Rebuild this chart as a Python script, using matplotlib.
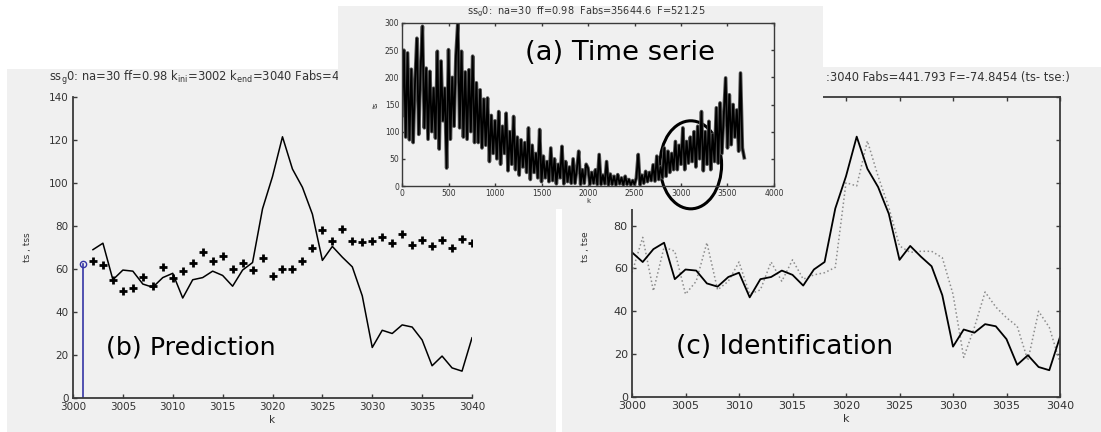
import numpy as np
import matplotlib
matplotlib.use("Agg")
import matplotlib.pyplot as plt
from matplotlib.patches import Rectangle, Ellipse

plt.rcParams['font.family'] = ['DejaVu Sans']
plt.rcParams['mathtext.default'] = 'regular'

# --- (a) full time series, one value every 20 samples ---
k_series = np.arange(0, 3700, 20)
ts_series = [
    130, 250, 90, 245, 85, 215, 80, 190, 272, 95, 215, 294, 107, 217, 86, 211, 100, 180, 88, 248, 68, 230, 120, 180, 33,
    251, 86, 200, 110, 240, 300, 107, 248, 90, 210, 86, 214, 100, 239, 80, 190, 80, 177, 70, 160, 75, 162, 45, 130, 60,
    120, 50, 137, 40, 110, 60, 134, 28, 100, 40, 128, 30, 90, 20, 85, 35, 80, 25, 107, 12, 75, 25, 60, 15, 104,
    8, 55, 15, 45, 8, 70, 10, 50, 4, 40, 15, 73, 4, 45, 8, 35, 5, 50, 5, 30, 64, 3, 30, 5, 40,
    33, 3, 25, 5, 30, 3, 58, 3, 20, 4, 45, 2, 22, 3, 18, 2, 21, 4, 15, 2, 18, 3, 12, 2, 10,
    3, 15, 58, 2, 20, 5, 27, 8, 25, 10, 39, 9, 55, 12, 35, 15, 70, 18, 64, 25, 60, 30, 82, 30, 75,
    40, 107, 30, 82, 42, 90, 45, 100, 35, 110, 50, 137, 28, 100, 40, 119, 30, 95, 45, 144, 42, 153, 60, 130, 199,
    70, 168, 76, 150, 90, 140, 64, 208, 70, 52,
]

# --- zoomed window k = 3000..3040 ---
k_zoom = np.arange(3000, 3041)
ts = [67.5, 63, 69, 72, 55, 59.5, 59, 53, 51.5, 56, 58, 46.5, 55, 56, 59, 57, 52, 59.5, 63, 88,
      103, 121.5, 106.5, 98, 85.5, 64, 70.5, 65.5, 61, 47.5, 23.5, 31.5, 30, 34, 33, 27, 15, 19.5, 14, 12.5, 28]
# prediction (b), from k_ini = 3002
k_pred = np.arange(3002, 3041)
tss = [63.5, 62, 55, 50, 51, 56.5, 52, 61, 55.7, 59.3, 62.7, 67.7, 63.5, 66, 60, 62.7, 59.6, 65, 56.8, 60,
       60, 63.5, 69.7, 78, 73, 78.5, 72.8, 72.4, 72.8, 75, 72, 76.4, 71.3, 73.6, 70.5, 73.6, 70, 74, 72]
# identification (c)
tse = [58, 74.5, 49.5, 70, 68, 48, 54, 72, 50, 54, 63, 48, 50, 63, 54, 64, 55, 57, 58, 60.5,
       100, 98.5, 119.5, 103, 88.5, 70.5, 67.5, 68, 68, 65, 48, 18.5, 32.5, 49, 42, 37, 33, 17, 40, 32.5, 16]
k_stem = 3001
stem_val = 62.4

W, H = 1101, 432
PANEL = '#f0f0f0'
SPINE = '#3a3a3a'
TXT = '#333333'

fig = plt.figure(figsize=(W / 100, H / 100), dpi=100, facecolor='white')


def fx(x):
    return x / W


def fy(y):
    return 1 - y / H


def add_px_axes(l, t, r, b):
    return fig.add_axes([l / W, 1 - b / H, (r - l) / W, (b - t) / H], facecolor='none')


def panel_bg(ax, l, t, r, b):
    ax.add_artist(Rectangle((fx(l), fy(b)), (r - l) / W, (b - t) / H, transform=fig.transFigure,
                            facecolor=PANEL, edgecolor='none', zorder=-10, clip_on=False))


def style_axes(ax, box, size):
    for s in ax.spines.values():
        s.set_color(SPINE)
        s.set_linewidth(1.3)
    if not box:
        ax.spines['top'].set_visible(False)
        ax.spines['right'].set_visible(False)
    ax.tick_params(direction='in', length=3, width=1, color=SPINE, labelcolor=TXT,
                   labelsize=size, pad=3, top=box, right=box)


# ---------------- (b) Prediction ----------------
ax_b = add_px_axes(73, 97, 472, 398)
panel_bg(ax_b, 7, 69, 556, 432)
ax_b.plot(k_zoom[2:], ts[2:], color='black', lw=1.1)
ax_b.plot(k_pred, tss, '+', color='black', ms=6, mew=2)
ax_b.plot([k_stem, k_stem], [0, stem_val], color='#3535a5', lw=1.2)
ax_b.plot([k_stem], [stem_val], 'o', mfc='none', mec='#3535a5', ms=4.5, mew=1)
ax_b.set_xlim(3000, 3040)
ax_b.set_ylim(0, 140)
ax_b.set_xticks(range(3000, 3041, 5))
ax_b.set_yticks(range(0, 141, 20))
style_axes(ax_b, False, 7.5)
ax_b.set_xlabel('k', fontsize=7.5, color=TXT, labelpad=2)
ax_b.set_ylabel('ts , tss', fontsize=6.5, color=TXT, labelpad=12)
# title is cut by panel (a) in the original
ax_b.text(fx(49), fy(78), r'ss$_g$0: na=30 ff=0.98 k$_{ini}$=3002 k$_{end}$=3040 Fabs=4',
          transform=fig.transFigure, ha='left', va='center', fontsize=8.3, color=TXT)
ax_b.text(fx(106), fy(347), '(b) Prediction', transform=fig.transFigure,
          ha='left', va='center', fontsize=18.3, color='black')

# ---------------- (c) Identification ----------------
ax_c = add_px_axes(632, 97, 1060, 397)
panel_bg(ax_c, 562, 67, 1101, 432)
ax_c.plot(k_zoom, tse, ':', color='#8c8c8c', lw=1.1)
ax_c.plot(k_zoom, ts, color='black', lw=1.3)
ax_c.set_xlim(3000, 3040)
ax_c.set_ylim(0, 140)
ax_c.set_xticks(range(3000, 3041, 5))
ax_c.set_yticks(range(0, 141, 20))
style_axes(ax_c, True, 8)
ax_c.set_xlabel('k', fontsize=8, color=TXT, labelpad=2)
ax_c.set_ylabel('ts , tse', fontsize=6.5, color=TXT, labelpad=12)
ax_c.text(fx(1070), fy(78), ':3040 Fabs=441.793 F=-74.8454 (ts- tse:)',
          transform=fig.transFigure, ha='right', va='center', fontsize=8.3, color=TXT)
ax_c.text(fx(676), fy(347), '(c) Identification', transform=fig.transFigure,
          ha='left', va='center', fontsize=19, color='black')

# ---------------- (a) Time serie (drawn last, on top) ----------------
ax_a = add_px_axes(402, 23, 774, 186)
panel_bg(ax_a, 338, 6, 823, 209)
ax_a.plot(k_series, ts_series, color='#555555', lw=2.6)
ax_a.plot(k_series, ts_series, color='black', lw=1.3)
ax_a.add_patch(Ellipse((3105, 39), 663, 162, fill=False, edgecolor='black', lw=2.2, clip_on=False))
ax_a.set_xlim(0, 4000)
ax_a.set_ylim(0, 300)
ax_a.set_xticks(range(0, 4001, 500))
ax_a.set_yticks(range(0, 301, 50))
style_axes(ax_a, True, 5.5)
ax_a.tick_params(length=2, pad=2)
for s in ax_a.spines.values():
    s.set_linewidth(1)
ax_a.set_xlabel('k', fontsize=5, color=TXT, labelpad=0)
ax_a.set_ylabel('ts', fontsize=5, color=TXT, labelpad=4)
ax_a.text(fx(586), fy(12), r'ss$_g$0:  na=30  ff=0.98  Fabs=35644.6  F=521.25', transform=fig.transFigure,
          ha='center', va='center', fontsize=7, color=TXT)
ax_a.text(fx(525), fy(53), '(a) Time serie', transform=fig.transFigure,
          ha='left', va='center', fontsize=19.7, color='black')

fig.savefig('out.png', dpi=100, facecolor='white')
